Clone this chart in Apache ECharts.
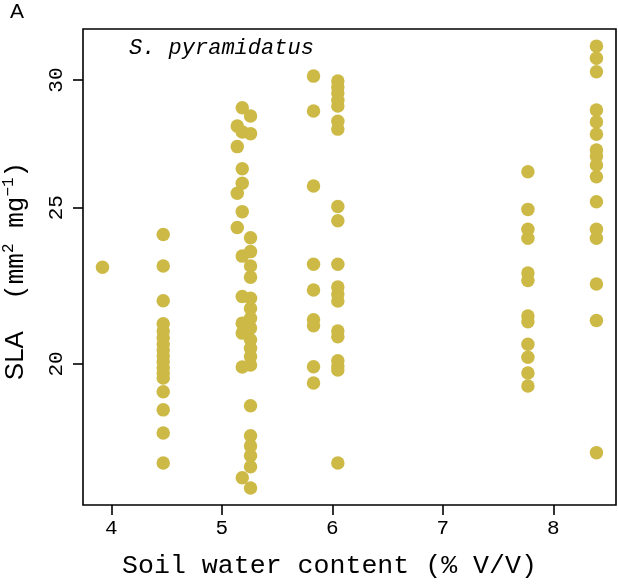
<!DOCTYPE html>
<html>
<head>
<meta charset="utf-8">
<script src="https://cdn.jsdelivr.net/npm/echarts@6/dist/echarts.min.js"></script>
<style>html,body{margin:0;padding:0;background:#fff;}#c{width:618px;height:586px;}</style>
</head>
<body>
<div id="c"></div>
<script>
// Soil water content (x) groups and SLA values (y)
const xA = 3.92;
const slaA = [22.96];
const xB = 4.47;
const slaB = [24.06, 23.0, 21.89, 21.18, 20.96, 20.76, 20.58, 20.40, 20.23, 20.06, 19.89, 19.74, 19.60, 19.22, 18.73, 18.12, 17.36];
const xC1 = 5.14;
const slaC1 = [28.09, 27.28, 25.52, 24.30];
const xC2 = 5.185;
const slaC2 = [28.84, 27.86, 26.43, 25.89, 24.86, 23.33, 22.02, 21.20, 20.90, 19.91, 17.00];
const xC3 = 5.26;
const slaC3 = [28.50, 27.79, 23.95, 23.48, 23.00, 22.64, 21.97, 21.65, 21.35, 21.05, 20.70, 20.45, 20.21, 19.97, 18.84, 18.05, 17.79, 17.54, 17.27, 16.75];
const xD = 5.83;
const slaD = [30.17, 28.70, 25.79, 23.06, 22.23, 21.30, 21.12, 19.92, 19.46];
const xE = 6.05;
const slaE = [29.96, 29.70, 29.45, 29.15, 28.91, 28.29, 27.97, 25.04, 24.54, 23.06, 22.32, 22.10, 21.88, 20.96, 20.79, 20.09, 19.94, 19.83, 17.36];
const xF = 7.77;
const slaF = [26.32, 24.94, 24.24, 23.93, 22.77, 22.53, 21.42, 21.24, 20.57, 20.19, 19.74, 19.38];
const xG = 8.39;
const slaG = [31.49, 30.95, 30.36, 28.74, 28.26, 27.77, 27.15, 26.92, 26.57, 26.13, 25.21, 24.24, 23.93, 22.42, 21.28, 17.62];

const xTicks = [4, 5, 6, 7, 8];
const yTicks = [20, 25, 30];

const groups = [[xA, slaA], [xB, slaB], [xC1, slaC1], [xC2, slaC2], [xC3, slaC3], [xD, slaD], [xE, slaE], [xF, slaF], [xG, slaG]];
const points = [];
groups.forEach(([x, ys]) => ys.forEach(y => points.push([x, y])));

const mono = '"Liberation Mono", "DejaVu Sans Mono", monospace';
const sans = '"Liberation Sans", Arial, sans-serif';

const chart = echarts.init(document.getElementById('c'), null, {renderer: 'canvas'});
chart.setOption({
  animation: false,
  backgroundColor: '#fff',
  grid: {left: 83, top: 29, width: 533, height: 476, show: true, borderColor: '#000', borderWidth: 1.6, backgroundColor: 'transparent'},
  xAxis: {
    type: 'value', min: 3.744, max: 8.567,
    splitLine: {show: false},
    axisLine: {show: false},
    axisTick: {show: true, length: 10, customValues: xTicks, lineStyle: {color: '#000', width: 1.6}},
    axisLabel: {customValues: xTicks, color: '#000', fontFamily: mono, fontSize: 21, margin: 13}
  },
  yAxis: {
    type: 'log', logBase: 10, min: 16.35, max: 32.27,
    splitLine: {show: false},
    axisLine: {show: false},
    axisTick: {show: true, length: 10, customValues: yTicks, lineStyle: {color: '#000', width: 1.6}},
    axisLabel: {customValues: yTicks, color: '#000', fontFamily: mono, fontSize: 21, rotate: 90, margin: 16}
  },
  series: [{
    type: 'scatter',
    data: points,
    symbol: 'circle',
    symbolSize: 13.5,
    itemStyle: {color: '#CDBA46', opacity: 1},
    z: 3
  }],
  graphic: [
    {type: 'text', left: 10, top: 2, style: {text: 'A', font: '21px ' + sans, fill: '#000'}},
    {type: 'text', left: 129, top: 37, style: {text: 'S. pyramidatus', font: 'italic 22px ' + mono, fill: '#000'}},
    {type: 'text', left: 122, top: 552, style: {text: 'Soil water content (% V/V)', font: '26.6px ' + mono, fill: '#000'}},
    {type: 'text', x: 16, y: 271, rotation: Math.PI / 2,
      style: {
        text: '{a|SLA}{m|  (mm}{s|2}{m| mg}{s|−1}{m|)}',
        align: 'center', verticalAlign: 'middle', fill: '#000',
        rich: {
          a: {fontFamily: sans, fontSize: 26, lineHeight: 30, fill: '#000'},
          m: {fontFamily: mono, fontSize: 26, lineHeight: 30, fill: '#000'},
          s: {fontFamily: mono, fontSize: 16, lineHeight: 16, verticalAlign: 'top', fill: '#000'}
        }
      }}
  ]
});
</script>
</body>
</html>
